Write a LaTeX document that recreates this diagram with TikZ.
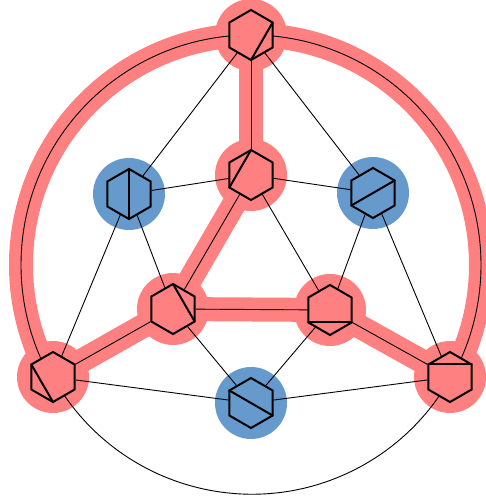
\documentclass[tikz,border=0pt]{standalone}
\usetikzlibrary{shapes.geometric}
\definecolor{halored}{RGB}{255,128,128}
\definecolor{haloblue}{RGB}{102,153,204}
\pgfdeclarelayer{bg}
\pgfdeclarelayer{edges}
\pgfsetlayers{bg,edges,main}
\begin{document}
\begin{tikzpicture}[x=1pt,y=1pt,
  hexnode/.style={regular polygon, regular polygon sides=6, shape border rotate=30,
    minimum size=50pt, inner sep=0pt, draw=black, line width=2pt},
  rednode/.style={hexnode, fill=halored},
  bluenode/.style={hexnode, fill=haloblue},
  thinedge/.style={black, line width=0.9pt},
  rededge/.style={halored, line width=24pt},
  diagline/.style={black, line width=2pt, line cap=round}]
\useasboundingbox (0,0) rectangle (486,498);
\def\hr{25}
% nodes
\node[rednode]  (T)  at (251,463) {};
\node[bluenode] (L)  at (129,304) {};
\node[rednode]  (C)  at (251,323) {};
\node[bluenode] (R)  at (373,305) {};
\node[rednode]  (ML) at (173,189) {};
\node[rednode]  (MR) at (330,188) {};
\node[rednode]  (BL) at (53,121) {};
\node[rednode]  (BR) at (450,121) {};
\node[bluenode] (B)  at (251,95) {};
% diagonals
\draw[diagline] ([shift={(30:\hr)}]T.center) -- ([shift={(-90:\hr)}]T.center);
\draw[diagline] ([shift={(90:\hr)}]L.center) -- ([shift={(-90:\hr)}]L.center);
\draw[diagline] ([shift={(90:\hr)}]C.center) -- ([shift={(210:\hr)}]C.center);
\draw[diagline] ([shift={(30:\hr)}]R.center) -- ([shift={(210:\hr)}]R.center);
\draw[diagline] ([shift={(90:\hr)}]ML.center) -- ([shift={(-30:\hr)}]ML.center);
\draw[diagline] ([shift={(210:\hr)}]MR.center) -- ([shift={(330:\hr)}]MR.center);
\draw[diagline] ([shift={(150:\hr)}]BL.center) -- ([shift={(270:\hr)}]BL.center);
\draw[diagline] ([shift={(150:\hr)}]BR.center) -- ([shift={(30:\hr)}]BR.center);
\draw[diagline] ([shift={(150:\hr)}]B.center) -- ([shift={(-30:\hr)}]B.center);
% background halos and red edges
\begin{pgfonlayer}{bg}
  \foreach \n in {T,C,ML,MR,BL,BR} \fill[halored] (\n) circle (36);
  \foreach \n in {L,R,B} \fill[haloblue] (\n) circle (36);
  \draw[rededge] (T) -- (C);
  \draw[rededge] (C) -- (ML);
  \draw[rededge] (ML) -- (MR);
  \draw[rededge] (ML) -- (BL);
  \draw[rededge] (MR) -- (BR);
  \draw[rededge] (T.center) arc[start angle=90, end angle=210, radius=230];
  \draw[rededge] (T.center) arc[start angle=90, end angle=-30, radius=230];
\end{pgfonlayer}
% thin edges
\begin{pgfonlayer}{edges}
  \draw[thinedge] (T) -- (L);
  \draw[thinedge] (T) -- (R);
  \draw[thinedge] (T) -- (C);
  \draw[thinedge] (L) -- (C);
  \draw[thinedge] (L) -- (ML);
  \draw[thinedge] (L) -- (BL);
  \draw[thinedge] (R) -- (C);
  \draw[thinedge] (R) -- (MR);
  \draw[thinedge] (R) -- (BR);
  \draw[thinedge] (C) -- (ML);
  \draw[thinedge] (C) -- (MR);
  \draw[thinedge] (ML) -- (MR);
  \draw[thinedge] (ML) -- (BL);
  \draw[thinedge] (ML) -- (B);
  \draw[thinedge] (MR) -- (BR);
  \draw[thinedge] (MR) -- (B);
  \draw[thinedge] (BL) -- (B);
  \draw[thinedge] (BR) -- (B);
  \draw[thinedge] (T.center) arc[start angle=90, end angle=210, radius=230];
  \draw[thinedge] (T.center) arc[start angle=90, end angle=-30, radius=230];
  \draw[thinedge] (BL.center) arc[start angle=209, end angle=331, radius=227.5];
\end{pgfonlayer}
\end{tikzpicture}
\end{document}
